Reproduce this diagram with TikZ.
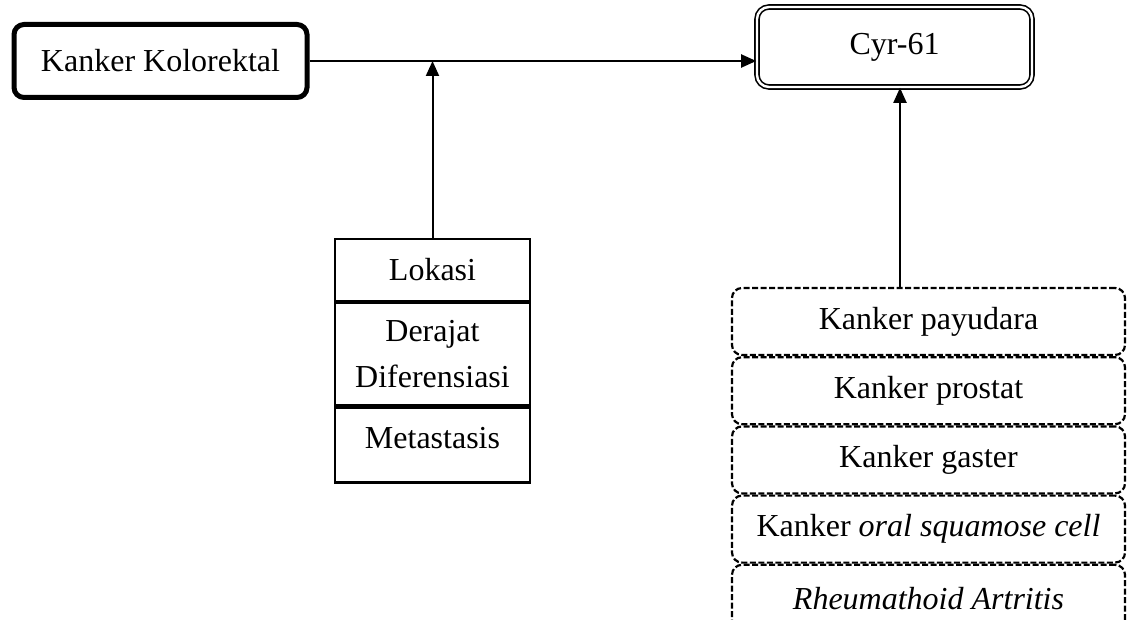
\documentclass[tikz,border=0pt]{standalone}
\usepackage{fontspec}
\setmainfont{Liberation Serif}
\usetikzlibrary{arrows.meta}
\begin{document}
\begin{tikzpicture}[x=1pt,y=-1pt,
  every node/.style={font=\fontsize{32}{46}\selectfont, inner sep=0pt, align=center},
  thickbox/.style={draw, line width=5pt, rounded corners=10pt},
  dblbox/.style={draw, double, double distance=2.4pt, line width=1.6pt, rounded corners=12pt},
  cell/.style={draw, line width=2.2pt, minimum width=195pt},
  dbox/.style={draw, line width=2.2pt, dash pattern=on 6pt off 2.5pt, rounded corners=10pt, minimum width=393pt, minimum height=67pt},
  conn/.style={line width=2pt, -{Triangle[length=15pt,width=13pt]}}
]
\useasboundingbox (0,0) rectangle (1130,620);
\node[thickbox, minimum width=293pt, minimum height=73pt] (kk) at (160.5,61) {Kanker Kolorektal};
\node[dblbox, minimum width=275pt, minimum height=80pt] (cyr) at (894.5,47) {Cyr-61};
% left stack
\node[cell, minimum height=62pt] (lok) at (432.5,270) {Lokasi};
\node[cell, minimum height=102pt, anchor=north] (der) at (lok.south) {Derajat\\Diferensiasi};
\node[cell, minimum height=75pt, anchor=north, text height=22pt, text depth=14pt] (met) at (der.south) {Metastasis};
% right stack
\node[dbox] (pay) at (928.5,321.5) {Kanker payudara};
\node[dbox, anchor=north] (pro) at (pay.south) {Kanker prostat};
\node[dbox, anchor=north] (gas) at (pro.south) {Kanker gaster};
\node[dbox, anchor=north] (ora) at (gas.south) {Kanker \textit{oral squamose cell}};
\node[dbox, anchor=north] (rhe) at (ora.south) {\textit{Rheumathoid Artritis}};
% connectors
\draw[conn] (kk.east) -- (kk.east -| cyr.west);
\draw[conn] (lok.north) -- (lok.north |- kk.east);
\coordinate (cb) at ([xshift=5.5pt]cyr.south);
\draw[conn] (cb |- pay.north) -- (cb);
\end{tikzpicture}
\end{document}
